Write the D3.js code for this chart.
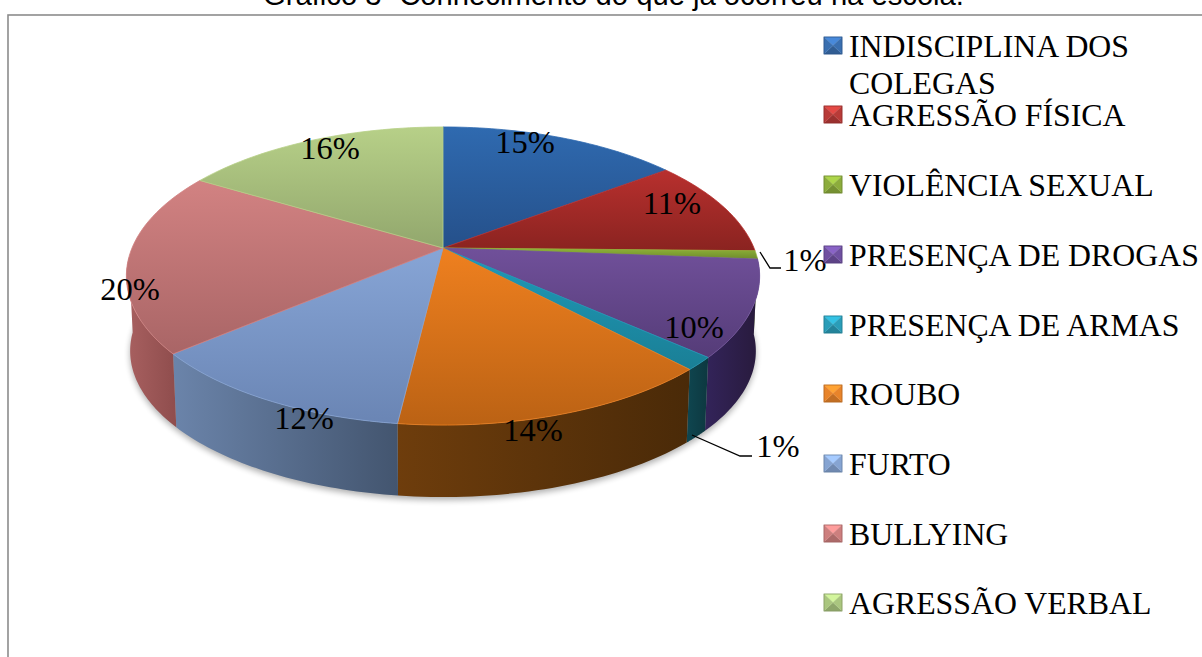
<!DOCTYPE html>
<html><head><meta charset="utf-8">
<script src="https://cdn.jsdelivr.net/npm/d3@7/dist/d3.min.js"></script>
<style>html,body{margin:0;padding:0;background:#fff;overflow:hidden}svg{display:block}</style>
</head><body><svg id="c" width="1202" height="657"></svg>
<script>
const title = "Gráfico 3- Conhecimento do que já ocorreu na escola.";
const categories = ["INDISCIPLINA DOS COLEGAS","AGRESSÃO FÍSICA","VIOLÊNCIA SEXUAL","PRESENÇA DE DROGAS","PRESENÇA DE ARMAS","ROUBO","FURTO","BULLYING","AGRESSÃO VERBAL"];
const legendLines = [["INDISCIPLINA DOS","COLEGAS"],["AGRESSÃO FÍSICA"],["VIOLÊNCIA SEXUAL"],["PRESENÇA DE DROGAS"],["PRESENÇA DE ARMAS"],["ROUBO"],["FURTO"],["BULLYING"],["AGRESSÃO VERBAL"]];
const shares = [14.7,10.6,0.9,10.4,1.4,13.9,11.9,19.8,16.4];
const labels = ["15%","11%","1%","10%","1%","14%","12%","20%","16%"];
const topLight = ["#2f6ab0","#b8302e","#8fb339","#70509a","#1f9ab8","#ef801f","#87a5d6","#d28282","#b7d088"];
const topDark  = ["#25508a","#8a2320","#6f8c2c","#553c78","#1a7f96","#bb6214","#6a85b4","#a96566","#92a76d"];
const wallLight= ["#1f3b63","#6b1a18","#50661f","#33245a","#0f4650","#6e3d0c","#6b84aa","#a86060","#6f8050"];
const wallDark = ["#1f3b63","#6b1a18","#50661f","#281a3c","#0d3840","#4a2a08","#43556f","#8f4d4d","#6f8050"];
const swatch   = ["#3a6fb0","#b83b38","#8cac3c","#6f50a0","#2a9db8","#e8842a","#86a4d2","#cd7f7e","#aac67f"];
const labelPos = [[525,142],[672,203],[805,260],[694,327],[778,446],[533,430],[304,418],[130,289],[330,148]];
const leaders  = [[[760,252],[770,268],[781,268]],[[692,435],[740,456],[752,456]]];
const legendRows = [46,115,185,255,325,394,464,534,603];

const svg = d3.select("#c");
const defs = svg.append("defs");

// perspective projection of the pie plane
const cx=443, cy=248, a=311, b=143.8, k=0.188;
const bottomY=323.5, bottomSx=0.988, bottomSy=0.98;
const proj = t => { const x=Math.sin(t), y=-Math.cos(t), w=1-k*y; return [a*x/w, b*y/w]; };
const topPt = t => { const p=proj(t); return [cx+p[0], cy+p[1]]; };
const botPt = t => { const p=proj(t); return [cx+bottomSx*p[0], bottomY+bottomSy*p[1]]; };
const line = d3.line();
const pie = d3.pie().sort(null).value(d=>d);
const arcs = pie(shares);
const samples = (t0,t1) => d3.range(0,41).map(i=>t0+(t1-t0)*i/40);

// frame
svg.append("rect").attr("x",8).attr("y",15).attr("width",1300).attr("height",800)
  .attr("fill","#fff").attr("stroke","#8c8c8c").attr("stroke-width",1.6);

// title
svg.append("text").attr("x",613.5).attr("y",5).attr("text-anchor","middle")
  .attr("font-family","'Liberation Sans',Arial,sans-serif").attr("font-size",29.2).attr("fill","#000").text(title);

// soft shadow
const blur = defs.append("filter").attr("id","blur").attr("x","-20%").attr("y","-20%").attr("width","140%").attr("height","140%");
blur.append("feGaussianBlur").attr("stdDeviation",3);
svg.append("path")
  .attr("d",line(d3.range(0,121).map(i=>i/120*2*Math.PI).map(botPt).map(p=>[p[0],p[1]+3]))+"Z")
  .attr("fill","#000").attr("opacity",0.32).attr("filter","url(#blur)");

// gradients
arcs.forEach((d,i)=>{
  const g=defs.append("linearGradient").attr("id","t"+i).attr("x1",0).attr("x2",0).attr("y1",0).attr("y2",1);
  g.append("stop").attr("offset",0).attr("stop-color",topLight[i]);
  g.append("stop").attr("offset",1).attr("stop-color",topDark[i]);
  const h=defs.append("linearGradient").attr("id","w"+i).attr("x1",0).attr("x2",1).attr("y1",0).attr("y2",0);
  h.append("stop").attr("offset",0).attr("stop-color",wallLight[i]);
  h.append("stop").attr("offset",1).attr("stop-color",wallDark[i]);
});

// walls (front half only)
const visL=Math.PI*0.52, visR=Math.PI*1.48;
arcs.forEach((d,i)=>{
  const t0=Math.max(d.startAngle,visL), t1=Math.min(d.endAngle,visR);
  if(t1<=t0) return;
  const s=samples(t0,t1);
  const pts=s.map(topPt).concat(s.slice().reverse().map(botPt));
  svg.append("path").attr("d",line(pts)+"Z").attr("fill",`url(#w${i})`);
});

// top surface
arcs.forEach((d,i)=>{
  const pts=[[cx,cy]].concat(samples(d.startAngle,d.endAngle).map(topPt));
  svg.append("path").attr("d",line(pts)+"Z").attr("fill",`url(#t${i})`)
    .attr("stroke",topLight[i]).attr("stroke-width",0.8).attr("stroke-linejoin","round");
});

// leaders
leaders.forEach(l=>svg.append("path").attr("d",line(l)).attr("fill","none").attr("stroke","#000").attr("stroke-width",1.3));

// data labels
const serif="'Liberation Serif','Times New Roman',serif";
labels.forEach((t,i)=>svg.append("text").attr("x",labelPos[i][0]).attr("y",labelPos[i][1]+11)
  .attr("text-anchor","middle").attr("font-family",serif).attr("font-size",32.5).attr("fill","#000").text(t));

// legend
categories.forEach((c,i)=>{
  const y=legendRows[i], x=824, w=18, h=17, top=y-9;
  const cxs=x+w/2, cys=top+h/2, col=d3.color(swatch[i]);
  const tri=[[[x,top],[x+w,top],[cxs,cys]],[[x,top+h],[x+w,top+h],[cxs,cys]],[[x,top],[x,top+h],[cxs,cys]],[[x+w,top],[x+w,top+h],[cxs,cys]]];
  const fills=[col.brighter(0.6),col.darker(0.5),col,col];
  tri.forEach((p,j)=>svg.append("path").attr("d",line(p)+"Z").attr("fill",fills[j]).attr("stroke",fills[j]).attr("stroke-width",0.3));
  svg.append("rect").attr("x",x).attr("y",top).attr("width",w).attr("height",h).attr("fill","none").attr("stroke",col.darker(0.7)).attr("stroke-width",0.8);
  legendLines[i].forEach((t,j)=>svg.append("text").attr("x",849).attr("y",y+11+j*36.5)
    .attr("font-family",serif).attr("font-size",31.8).attr("fill","#000").text(t));
});
</script></body></html>
